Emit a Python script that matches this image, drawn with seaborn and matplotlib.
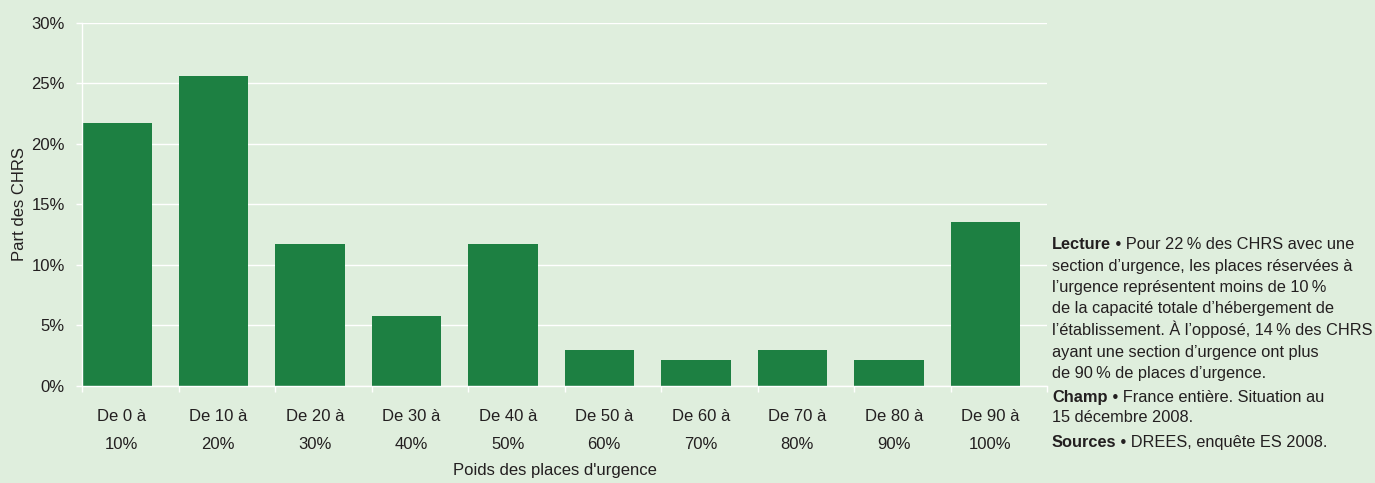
import matplotlib
matplotlib.use("Agg")
import matplotlib.pyplot as plt
import seaborn as sns
import pandas as pd
import numpy as np

categories = ["De 0 à\n10%", "De 10 à\n20%", "De 20 à\n30%", "De 30 à\n40%", "De 40 à\n50%",
              "De 50 à\n60%", "De 60 à\n70%", "De 70 à\n80%", "De 80 à\n90%", "De 90 à\n100%"]
values = [21.7, 25.6, 11.7, 5.75, 11.7, 2.93, 2.1, 2.93, 2.1, 13.5]
yticks = [0, 5, 10, 15, 20, 25, 30]
ytick_labels = ["0%", "5%", "10%", "15%", "20%", "25%", "30%"]

BG = "#DFEEDD"
BAR = "#1D8042"
TXT = "#231F20"

sns.set_theme(style="white")
plt.rcParams["font.family"] = ["Liberation Sans", "DejaVu Sans"]

W, H = 1375, 483
fig = plt.figure(figsize=(W / 100, H / 100), dpi=100, facecolor=BG)
ax = fig.add_axes([82 / W, 1 - 385.5 / H, (1047 - 82) / W, (385.5 - 22.7) / H])
ax.set_facecolor(BG)

BW = 0.725
df = pd.DataFrame({"cat": categories, "val": values})
sns.barplot(data=df, x="cat", y="val", color=BAR, saturation=1, width=BW, ax=ax,
            zorder=3, linewidth=0, edgecolor=BAR)

n = len(categories)
ax.set_ylim(0, 30)
ax.set_xlim(-BW / 2, n - BW / 2)

ax.yaxis.grid(True, color="white", lw=1.0, zorder=1)
ax.set_axisbelow(True)

for s in ["top", "right"]:
    ax.spines[s].set_visible(False)
for s in ["left", "bottom"]:
    ax.spines[s].set_color("white")
    ax.spines[s].set_linewidth(1.0)
    ax.spines[s].set_zorder(4)

ax.set_yticks(yticks)
ax.set_yticklabels(ytick_labels, fontsize=12, color=TXT)
ax.tick_params(axis="y", length=4.5, width=1, color="white", pad=8, left=True, direction="out")

ax.set_xticks(np.arange(n) + 0.05)
ax.set_xticklabels(categories, fontsize=12, color=TXT, linespacing=2.05)
ax.tick_params(axis="x", which="major", length=0, pad=17)
ax.set_xticks(np.arange(n + 1) - BW / 2, minor=True)
ax.tick_params(axis="x", which="minor", length=4.5, width=1, color="white", bottom=True, direction="out")

ax.set_xlabel("")
ax.set_ylabel("")
fig.text(20 / W, 1 - 204 / H, "Part des CHRS", rotation=90, ha="center", va="center",
         fontsize=12, color=TXT)
fig.text(555 / W, 1 - 471 / H, "Poids des places d'urgence", ha="center", va="center",
         fontsize=12, color=TXT)

# Right side note
x0 = 1052 / W
FS = 11.8
def line(yc, text, bold=None):
    y = 1 - yc / H
    if bold:
        t = fig.text(x0, y, bold, ha="left", va="bottom", fontsize=FS,
                     fontweight="bold", color=TXT)
        plt.annotate(" \u2022 " + text, xy=(1, 0), xycoords=t, ha="left", va="bottom",
                     fontsize=FS, color=TXT, annotation_clip=False)
    else:
        fig.text(x0, y, text, ha="left", va="bottom", fontsize=FS, color=TXT)

off = 9
line(243 + off, "Pour 22\u2009% des CHRS avec une", bold="Lecture")
line(265 + off, "section d\u2019urgence, les places réservées à")
line(286 + off, "l\u2019urgence représentent moins de 10\u2009%")
line(307.5 + off, "de la capacité totale d\u2019hébergement de")
line(329 + off, "l\u2019établissement. À l\u2019opposé, 14\u2009% des CHRS")
line(351 + off, "ayant une section d\u2019urgence ont plus")
line(372 + off, "de 90\u2009% de places d\u2019urgence.")
line(396 + off, "France entière. Situation au", bold="Champ")
line(416 + off, "15 décembre 2008.")
line(441 + off, "DREES, enquête ES 2008.", bold="Sources")

fig.savefig("out.png", dpi=100, facecolor=BG)
